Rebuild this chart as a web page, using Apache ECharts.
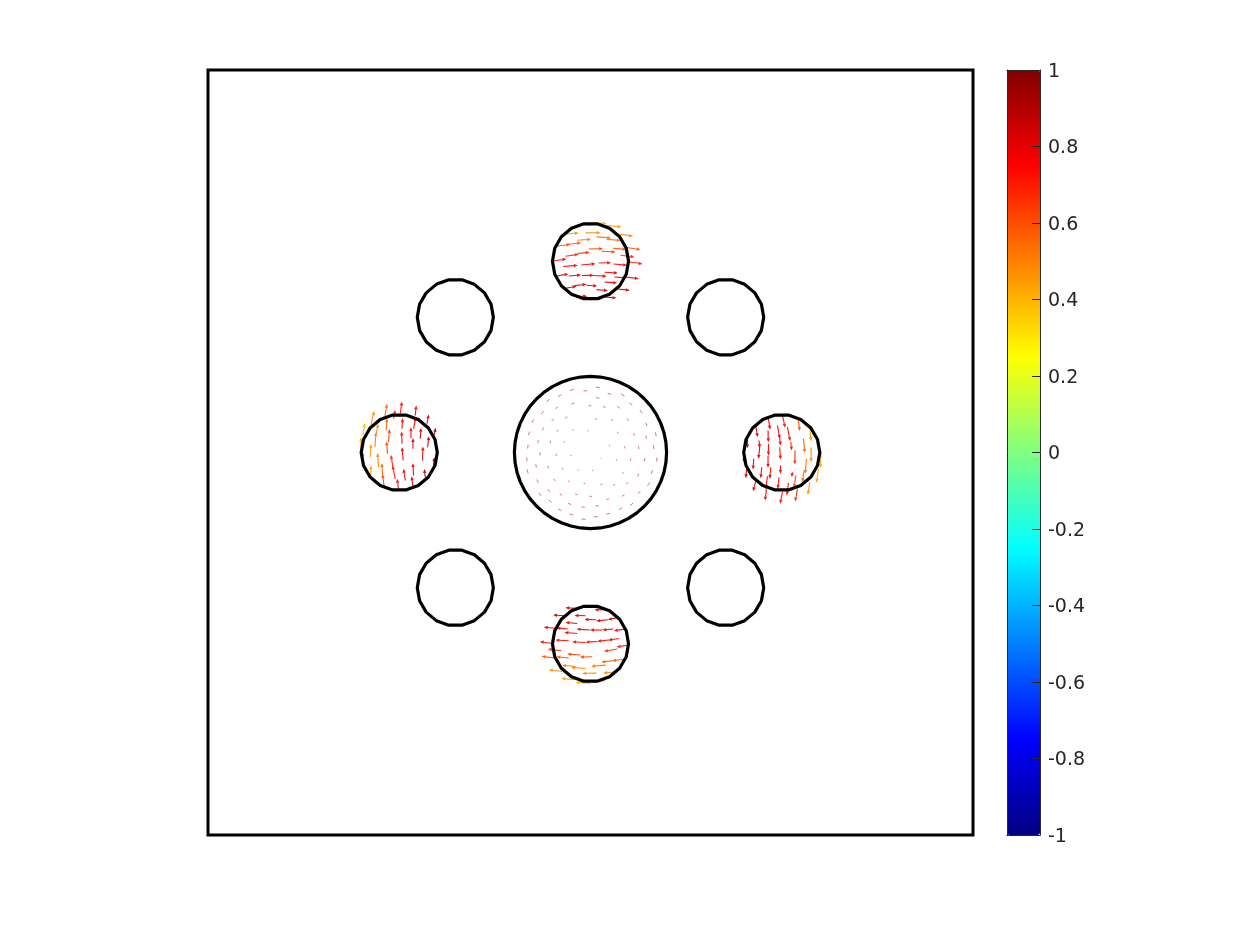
<!DOCTYPE html>
<html>
<head>
<meta charset="utf-8">
<title>Vector field on circular inclusions</title>
<style>html,body{margin:0;padding:0;background:#fff}#chart{width:1250px;height:938px}</style>
<script src="https://cdn.jsdelivr.net/npm/echarts@6/dist/echarts.min.js"></script>
</head>
<body>
<div id="chart"></div>
<script>
// Circle outlines: centre x, centre y, radius, number of polygon sides (plot units)
const circleX = [0, 0, 135, 191, 135, 0, -135, -191, -135];
const circleY = [0, 191, 135, 0, -135, -191, -135, 0, 135];
const circleR = [76, 38, 38, 38, 38, 38, 38, 38, 38];
const circleSides = [48, 18, 18, 18, 18, 18, 18, 18, 18];

// Colour bar
const colorTicks = [-1, -0.8, -0.6, -0.4, -0.2, 0, 0.2, 0.4, 0.6, 0.8, 1];
const jetStops = ['#000080', '#0000ff', '#0080ff', '#00ffff', '#80ff80', '#ffff00', '#ff8000', '#ff0000', '#800000'];

// Arrows: x, y, u, v, value
const topArrows = [
[-13.3,227,15,1,.45],[1.7,229.3,14.3,-.7,.42],[15,227,16,-1.7,.45],[-26,218,14.3,1.3,.47],[-5,219.3,15,.3,.47],
[29.3,218,13.3,-2,.47],[-13.3,212,14,1,.5],[6,215.3,14.7,-1,.52],[16,213,14,-1.3,.52],[-35,206,15,1.7,.58],
[-24,207.7,14.7,1.7,.58],[-1.7,203.3,14.3,.3,.62],[11,201,14,-.7,.62],[22.7,204,13.3,-1.3,.6],[36,204.7,14,-2,.58],
[-25,196,13.3,2,.66],[-13.3,198.7,12.7,1.3,.66],[30,197,14,-1.7,.66],[-37.3,191.3,13.3,2,.72],[-27.3,185.7,14.7,1.3,.74],
[-9.3,187.3,14.3,1.3,.74],[8.3,189.3,12.3,.3,.72],[23.3,188.3,13.3,-1.3,.72],[39.3,190.3,12.7,-2,.7],[-33.3,176.3,11.3,2,.78],
[-21.7,176.3,12.3,1,.78],[-8.7,176.7,12,.3,.78],[2.7,176.7,13.3,-.7,.78],[14,180,13.3,-.7,.76],[24,175.3,12.7,-1,.76],
[35,175.3,13.3,-1.7,.76],[14,170.3,12.7,-1,.8],[-25,164,11,2,.8],[-16,166.7,12,1.3,.8],[-4,167,10.7,-.7,.8],
[6,162.7,11.3,-1,.82],[27.3,163.3,12,-1.3,.82],[-15,156,11.7,0,.84],[-.7,152.7,12.3,1,.84],[14,155.3,12,-1,.84]
];
const leftArrows = [
[-227.3,17,2,12.3,.4],[-229.3,5.3,0,10,.42],[-227.3,-4.7,.7,5,.42],[-219.3,27.7,3.3,13.7,.48],[-220,-4.7,.7,13.3,.44],
[-219.3,-23,0,10,.44],[-214,18.7,2,10,.48],[-215.3,5.3,1,15,.5],[-211.7,-14.7,-1,14.3,.48],[-207.7,-23,-.7,12.3,.55],
[-206,-34.7,-1.7,13.3,.6],[-205.3,36.3,2,12.3,.55],[-204,22,.7,12.3,.55],[-202.7,-1.3,-1,12.3,.62],[-201.7,10.3,1,13.3,.62],
[-197.3,-14.7,-2,12.3,.68],[-195,-26.3,-2.7,13.3,.7],[-196.7,33.7,1.7,9,.64],[-190,38.7,1.7,12.3,.72],[-191.7,-38,-1.3,11.7,.72],
[-188.3,23.7,.7,10.7,.72],[-188.3,8.7,-.3,12.3,.74],[-187,-8,-1.3,13.3,.74],[-185,-28,-1.7,11.7,.76],[-177.3,-34.7,-1.3,11,.78],
[-176.7,-23,-.7,12.3,.78],[-177.3,3.7,0,10.7,.78],[-179.3,14.3,0,11,.76],[-175,37,1,10,.76],[-176.7,23.7,2.3,11.7,.76],
[-170,13.7,.7,11,.8],[-167.7,-8,.3,14,.8],[-165,-24.7,-1,8.3,.88],[-163.3,28.7,1.7,9.3,.82],[-162.7,5.3,1.3,11,.82],
[-156,17.7,1.3,7,.92],[-156.7,-13,.7,8.3,.92]
];
const rightArrows = [
[177.7,33.7,1.7,-11,.78],[191.7,37,2.7,-12.3,.72],[207.3,33.7,1.7,-12.3,.6],[219,24.3,1.3,-13,.46],[165,26.3,2,-11,.8],
[169,5.3,-1.3,-11.7,.8],[168.3,12,.7,-7.7,.8],[177.3,22,.3,-11.7,.78],[186.7,27,2.3,-13.3,.76],[189,15.3,.7,-8.3,.76],
[196.7,25.3,2.7,-14,.72],[200,10.3,1,-8.3,.72],[177.7,8.7,0,-11.7,.78],[177.3,-3,0,-12.3,.78],[189,5.3,.7,-12.3,.76],
[212.7,13.7,1.3,-14,.58],[204.3,2,-.3,-14,.68],[220.3,5.3,0,-15,.48],[156.7,15.3,0,-11,.88],[153.3,-3,0,-7.3,.9],
[163,-6.3,-.7,-10.7,.82],[171,-14.7,-1,-11,.8],[180,-14.7,-1,-11.7,.78],[189.7,-13,0,-8.3,.76],[215.7,-6.3,-1.3,-15,.52],
[230.3,.3,-.7,-16,.42],[156,-16.3,-1,-9.3,.84],[201.7,-19.7,-.7,-5,.72],[213.3,-18,-1.7,-11.7,.56],[227.7,-16.3,-2,-14,.42],
[176.7,-23.7,-1.7,-12.7,.78],[175.7,-36.3,-1.3,-11.7,.76],[165,-29,-2.7,-9.7,.8],[188.3,-24.7,-1.3,-11.7,.74],[197.7,-30.3,-1.7,-12.7,.7],
[205,-23,-1.7,-12.7,.62],[206.7,-36.3,-2.3,-12.7,.66],[191.7,-39,-2.3,-12.3,.72],[219,-29.7,-2,-12.7,.46]
];
const bottomArrows = [
[-13.3,-155.7,-11.7,.7,.84],[1.7,-153,-11.7,-.7,.84],[15,-157,-11,0,.84],[-5,-163,-11,.3,.82],[-26.7,-163,-10.7,.7,.82],
[5.7,-167,-11.7,.3,.8],[17.3,-167,-11.7,-1.3,.8],[28.3,-165,-11,-1.7,.82],[-13.3,-170.7,-11.7,1,.8],[-33.3,-175.7,-13.3,1.3,.78],
[-22.7,-176.3,-11.3,1,.78],[-.7,-177.3,-13.3,1,.78],[11.7,-177.3,-12.3,0,.78],[22.7,-176.3,-11,-1,.78],[35,-176.3,-11.7,-1.7,.76],
[-13.3,-180.7,-12.7,1,.76],[-21.7,-188,-13.3,.7,.72],[-38.3,-190.7,-12.3,1.7,.72],[-5,-189.7,-13.3,.7,.72],[6.7,-188.7,-11.7,-.7,.72],
[18.3,-187.3,-11.7,-1.3,.72],[28.3,-185.7,-10.7,-1.7,.74],[39.3,-192,-13.3,-2.3,.72],[-29.3,-198,-13.3,1.7,.68],[26.7,-196.3,-13.3,-2.3,.66],
[-10,-202.3,-13.3,1,.62],[1.7,-204,-12.3,-.3,.62],[-35,-205.3,-14,1.7,.58],[-21.7,-205.3,-12.3,1.3,.58],[35,-206.3,-13.3,-1.7,.56],
[23.3,-208,-12.7,-1.3,.56],[15,-212.3,-14.3,-1.3,.52],[-15,-213.7,-13.3,1.3,.5],[-5,-215.7,-14.3,1,.5],[-28.3,-218.7,-13.3,1.7,.46],
[6,-220.3,-14.3,-.3,.47],[26,-219,-13.3,-1.3,.48],[-15,-227,-14.3,1.3,.43],[0,-230.3,-15,.7,.42],[15,-228,-15,-1,.44]
];
const centreArrows = [
[9.3,64.7,-3.9,.6,.92],[-3.3,61.7,-3.7,-.2,.92],[-16.7,63,-3.8,-1,.92],[-29,57.7,-3.5,-1.7,.92],[-40.7,53.3,-3.2,-2.4,.92],
[-46.7,41.3,-2.5,-2.8,.92],[-56.7,33,-2,-3.4,.92],[-60.7,21,-1.3,-3.6,.92],[-62.3,7.7,-.5,-3.7,.92],[-63.7,-5,.3,-3.8,.92],
[-63.3,-17,1,-3.8,.92],[-53.7,-27,1.6,-3.2,.92],[-51.7,-40.3,2.4,-3.1,.92],[-41.7,-47.3,2.8,-2.5,.92],[-32.3,-56.3,3.4,-1.9,.92],
[-21,-61.3,3.7,-1.3,.92],[-9,-66.3,4,-.5,.92],[3.3,-64.3,3.9,.2,.92],[15.7,-61.7,3.7,.9,.92],[28.3,-57,3.4,1.7,.92],
[39.3,-53,3.2,2.4,.92],[47.3,-41.3,2.5,2.8,.92],[57,-33.3,2,3.4,.92],[60.7,-21.3,1.3,3.6,.92],[66,-9,.5,4,.92],
[63.3,3.3,-.2,3.8,.92],[65.7,16.3,-1,3.9,.92],[56.7,26.3,-1.6,3.4,.92],[51.7,39.3,-2.4,3.1,.92],[41.7,47.3,-2.8,2.5,.92],
[34,56.3,-3.4,2,.92],[20.7,58,-3.5,1.2,.92],
[9,54.3,-3.3,.5,.92],[.7,46.7,-2.8,0,.92],[15,45,-2.7,.9,.92],[29.3,44.3,-2.7,1.8,.92],[38.3,31.7,-1.9,2.3,.92],
[44,16.7,-1,2.6,.92],[56,13.7,-.8,3.4,.92],[48.3,3.3,-.2,2.9,.92],[53.7,-8.7,.5,3.2,.92],[40,-8.3,.5,2.4,.92],
[47,-24,1.4,2.8,.92],[35.7,-31.7,1.9,2.1,.92],[31.3,-44,2.6,1.9,.92],[15.7,-47,2.8,.9,.92],[5,-53.3,3.2,.3,.92],
[-9,-54.3,3.3,-.5,.92],[-22.3,-50.7,3,-1.3,.92],[-30.7,-41.3,2.5,-1.8,.92],[-42.7,-36.7,2.2,-2.6,.92],[-36.7,-26.3,1.6,-2.2,.92],
[-42.7,-13.3,.8,-2.6,.92],[-54.7,-11.7,.7,-3.3,.92],[-50.3,.3,0,-3,.92],[-39.7,11.7,-.7,-2.4,.92],[-52,12.3,-.7,-3.1,.92],
[-46.7,25,-1.5,-2.8,.92],[-36.7,33.7,-2,-2.2,.92],[-23.3,35.7,-2.1,-1.4,.92],[-16,49.3,-3,-1,.92],[-32.3,45.7,-2.7,-1.9,.92],
[6.7,33.3,-2,.4,.92],[22.3,31.7,-1.9,1.3,.92],[27.7,19,-1.1,1.7,.92],[34.3,4,-.2,2.1,.92],[25.7,-8.3,.5,1.5,.92],
[31.7,-21.3,1.3,1.9,.92],[22.7,-33,2,1.4,.92],[10,-32,1.9,.6,.92],[-1,-43.7,2.6,-.1,.92],[-15.3,-41.3,2.5,-.9,.92],
[-22.3,-28.3,1.7,-1.3,.92],[-7,-30.7,1.8,-.4,.92],[-28.3,-15.3,.9,-1.7,.92],[-34.3,-1.3,.1,-2.1,.92],[-25.7,11.3,-.7,-1.5,.92],
[-32.3,22.7,-1.4,-1.9,.92],[-16.7,23,-1.4,-1,.92],[-1.7,21.7,-1.3,-.1,.92],[19.3,6.3,-.4,1.2,.92],[10.3,-6.3,.4,.6,.92],
[1.7,-18,1.1,.1,.92],[-12.7,-17.3,1,-.8,.92],[-19.7,-2.3,.1,-1.2,.92]
];

const fieldArrows = topArrows.concat(leftArrows, rightArrows, bottomArrows);
const circleData = circleX.map((x, i) => [x, circleY[i], circleR[i], circleSides[i]]);

function arrowItem(shaftWidth, headLength, headWidth, opacity) {
  return function (params, api) {
    const x = api.value(0), y = api.value(1), u = api.value(2), v = api.value(3);
    const color = api.visual('color');
    const a = api.coord([x, y]);
    const b = api.coord([x + u, y + v]);
    const dx = b[0] - a[0], dy = b[1] - a[1];
    const len = Math.hypot(dx, dy) || 1;
    const ux = dx / len, uy = dy / len;
    const bx = b[0] - ux * headLength, by = b[1] - uy * headLength;
    const children = [{
      type: 'line',
      shape: { x1: a[0], y1: a[1], x2: bx, y2: by },
      style: { stroke: color, lineWidth: shaftWidth, opacity: opacity }
    }];
    if (headLength > 0) {
      children.push({
        type: 'polygon',
        shape: { points: [
          [b[0], b[1]],
          [bx - uy * headWidth / 2, by + ux * headWidth / 2],
          [bx + uy * headWidth / 2, by - ux * headWidth / 2]
        ] },
        style: { fill: color, opacity: opacity }
      });
    }
    return { type: 'group', children: children };
  };
}

function circleItem(params, api) {
  const cx = api.value(0), cy = api.value(1), r = api.value(2), n = api.value(3);
  const pts = [];
  for (let k = 0; k < n; k++) {
    const t = 2 * Math.PI * k / n;
    pts.push(api.coord([cx + r * Math.cos(t), cy + r * Math.sin(t)]));
  }
  return { type: 'polygon', shape: { points: pts }, style: { fill: 'none', stroke: '#000', lineWidth: 3.2, lineJoin: 'round' } };
}

const noAxisParts = { axisLabel: { show: false }, axisTick: { show: false }, splitLine: { show: false } };
const barLine = { show: true, onZero: false, lineStyle: { color: '#262626', width: 1 } };

const chart = echarts.init(document.getElementById('chart'), null, { renderer: 'canvas' });
chart.setOption({
  animation: false,
  backgroundColor: '#ffffff',
  textStyle: { fontFamily: 'DejaVu Sans' },
  grid: [
    { left: 208, top: 70, width: 765, height: 765, show: true, borderColor: '#000', borderWidth: 3, backgroundColor: '#fff' },
    { left: 1007, top: 70, width: 33, height: 765, show: false }
  ],
  xAxis: [
    Object.assign({ type: 'value', gridIndex: 0, min: -382, max: 382, axisLine: { show: false } }, noAxisParts),
    Object.assign({ type: 'value', gridIndex: 1, min: 0, max: 1, position: 'top', z: 8, axisLine: barLine }, noAxisParts),
    Object.assign({ type: 'value', gridIndex: 1, min: 0, max: 1, position: 'bottom', z: 8, axisLine: barLine }, noAxisParts)
  ],
  yAxis: [
    Object.assign({ type: 'value', gridIndex: 0, min: -382, max: 382, axisLine: { show: false } }, noAxisParts),
    {
      type: 'value', gridIndex: 1, min: -1, max: 1, interval: 0.2, position: 'right', z: 8,
      axisLine: barLine,
      axisTick: { show: true, inside: true, length: 8, lineStyle: { color: '#262626', width: 1 } },
      axisLabel: {
        show: true, margin: 8, color: '#262626', fontSize: 19, fontFamily: 'DejaVu Sans',
        showMinLabel: true, showMaxLabel: true,
        formatter: v => '{t|' + colorTicks[Math.round((v + 1) / 0.2)] + '}',
        rich: { t: { color: '#262626', fontSize: 19, fontFamily: 'DejaVu Sans', padding: [4, 0, 0, 0] } }
      },
      splitLine: { show: false }
    },
    Object.assign({ type: 'value', gridIndex: 1, min: -1, max: 1, position: 'left', z: 8, axisLine: barLine }, noAxisParts)
  ],
  visualMap: {
    type: 'continuous', min: -1, max: 1, dimension: 4, seriesIndex: [0, 1],
    left: 1007, top: 70, padding: 0, itemWidth: 33, itemHeight: 765, calculable: false, realtime: false,
    text: null, showLabel: false, inRange: { color: jetStops }, z: 4, hoverLink: false,
    textStyle: { color: 'rgba(0,0,0,0)', fontSize: 1 }
  },
  series: [
    {
      type: 'custom', name: 'Field', xAxisIndex: 0, yAxisIndex: 0, coordinateSystem: 'cartesian2d',
      data: fieldArrows, z: 3, silent: true,
      dimensions: ['x', 'y', 'u', 'v', 'value'], encode: { x: 0, y: 1 },
      renderItem: arrowItem(1.1, 4, 3.4, 0.95)
    },
    {
      type: 'custom', name: 'Centre', xAxisIndex: 0, yAxisIndex: 0, coordinateSystem: 'cartesian2d',
      data: centreArrows, z: 3, silent: true,
      dimensions: ['x', 'y', 'u', 'v', 'value'], encode: { x: 0, y: 1 },
      renderItem: arrowItem(0.7, 0, 0, 0.75)
    },
    {
      type: 'custom', name: 'Circles', xAxisIndex: 0, yAxisIndex: 0, coordinateSystem: 'cartesian2d',
      data: circleData, z: 5, silent: true,
      encode: { x: 0, y: 1 },
      renderItem: circleItem
    }
  ]
});
</script>
</body>
</html>
